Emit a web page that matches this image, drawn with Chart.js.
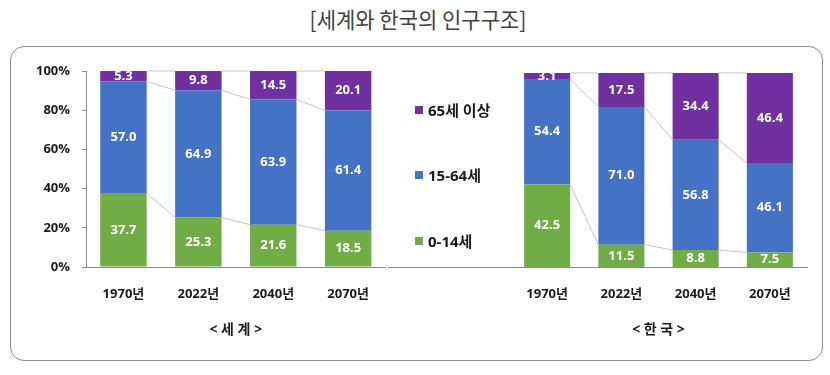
<!DOCTYPE html>
<html>
<head>
<meta charset="utf-8">
<script src="https://cdn.jsdelivr.net/npm/chart.js@4.4.1/dist/chart.umd.min.js"></script>
<style>
  body { margin: 0; width: 830px; height: 375px; background: #fff; position: relative; overflow: hidden; font-family: "Open Sans", "Noto Sans CJK KR", sans-serif; }
  #title { position: absolute; left: 0; top: 4px; width: 836px; text-align: center; font-family: "Noto Sans CJK KR", sans-serif; font-size: 21px; color: #404040; transform: scaleY(1.05); }
  #box { position: absolute; left: 10px; top: 46px; width: 813px; height: 315px; border: 1.5px solid #8c8c8c; border-radius: 14px; box-sizing: border-box; }
  .wrap { position: absolute; top: 0; height: 375px; }
  #legend .item { position: absolute; left: 415px; white-space: nowrap; font-weight: bold; font-size: 15px; line-height: 20px; color: #1a1a1a; }
  #legend .item i { display: inline-block; width: 8px; height: 8px; margin-right: 5px; vertical-align: 2px; }
</style>
</head>
<body>
<div id="title">[세계와 한국의 인구구조]</div>
<div id="box"></div>
<div class="wrap" style="left: 0; width: 388px;"><canvas id="world"></canvas></div>
<div class="wrap" style="left: 388px; width: 442px;"><canvas id="korea"></canvas></div>
<div id="legend"></div>
<script>
// data
const years = ['1970년', '2022년', '2040년', '2070년'];
const groups = ['0-14세', '15-64세', '65세 이상'];
const colors = ['#70AD47', '#4472C4', '#7030A0'];
const worldYoung = [37.7, 25.3, 21.6, 18.5];
const worldWork = [57.0, 64.9, 63.9, 61.4];
const worldOld = [5.3, 9.8, 14.5, 20.1];
const koreaYoung = [42.5, 11.5, 8.8, 7.5];
const koreaWork = [54.4, 71.0, 56.8, 46.1];
const koreaOld = [3.1, 17.5, 34.4, 46.4];
const yTicks = [0, 20, 40, 60, 80, 100];

const font = '"Open Sans", "Noto Sans CJK KR", sans-serif';
const ink = '#1a1a1a';
const axis = '#8c8c8c';

// {{{ plugins
// gray lines joining the stack boundaries of neighbouring bars
const seriesLines =
{
  id: 'seriesLines',
  afterDatasetsDraw(chart)
  {
    let ctx = chart.ctx;
    ctx.save();
    ctx.strokeStyle = '#c4c4c4';
    ctx.lineWidth = 1;
    chart.data.datasets.forEach((ds, d) =>
    {
      let bars = chart.getDatasetMeta(d).data;
      for (let i = 0; i < bars.length - 1; i++)
      {
        let a = bars[i];
        let b = bars[i + 1];
        ctx.beginPath();
        ctx.moveTo(a.x + a.width / 2, a.y);
        ctx.lineTo(b.x - b.width / 2, b.y);
        ctx.stroke();
      }
    });
    ctx.restore();
  }
};

// white value in the middle of every segment
const valueLabels =
{
  id: 'valueLabels',
  afterDatasetsDraw(chart)
  {
    let ctx = chart.ctx;
    ctx.save();
    ctx.fillStyle = '#fff';
    ctx.font = 'bold 13px ' + font;
    ctx.textAlign = 'center';
    ctx.textBaseline = 'middle';
    chart.data.datasets.forEach((ds, d) =>
    {
      chart.getDatasetMeta(d).data.forEach((bar, i) =>
      {
        ctx.fillText(ds.data[i].toFixed(1), bar.x, (bar.y + bar.base) / 2);
      });
    });
    ctx.restore();
  }
};

// korean plot's baseline runs left under the legend
const baseExtend =
{
  id: 'baseExtend',
  afterDraw(chart)
  {
    let ctx = chart.ctx;
    let a = chart.chartArea;
    ctx.save();
    ctx.strokeStyle = axis;
    ctx.lineWidth = 1;
    ctx.beginPath();
    ctx.moveTo(0, a.bottom + 0.5);
    ctx.lineTo(a.left, a.bottom + 0.5);
    ctx.stroke();
    ctx.restore();
  }
};
// }}}

// {{{ build()
function build(id, young, work, old, title, yShow, yMax, pad, extra)
{
  let sets = [young, work, old].map((v, i) => (
  {
    label: groups[i],
    data: v,
    backgroundColor: colors[i],
    borderWidth: 0,
    barPercentage: 0.62,
    categoryPercentage: 1
  }));
  return new Chart(document.getElementById(id),
  {
    type: 'bar',
    data: {labels: years, datasets: sets},
    plugins: [seriesLines, valueLabels].concat(extra),
    options:
    {
      responsive: true,
      maintainAspectRatio: false,
      animation: false,
      layout: {padding: pad},
      plugins: {legend: {display: false}, tooltip: {enabled: false}},
      scales:
      {
        x:
        {
          stacked: true,
          grid: {display: false, drawTicks: false},
          border: {display: true, color: axis, width: 1},
          ticks: {color: ink, font: {family: font, size: 13, weight: 'bold'}, padding: 19},
          title: {display: true, text: title, color: ink, font: {family: font, size: 14, weight: 'bold'}, padding: {top: 12, bottom: 0}},
          afterFit: (s) => { s.height = 71; }
        },
        y:
        {
          display: yShow,
          stacked: true,
          min: 0,
          max: yMax,
          afterBuildTicks: (s) => { s.ticks = yTicks.map((v) => ({value: v})); },
          grid: {drawOnChartArea: false, drawTicks: true, tickLength: 4, color: axis},
          border: {display: true, color: axis, width: 1},
          ticks: {color: ink, font: {family: font, size: 13, weight: 'bold'}, padding: 12, callback: (v) => v + '%'},
          afterFit: (s) => { s.width = yShow ? 66 : 0; }
        }
      }
    }
  });
}
// }}}

build('world', worldYoung, worldWork, worldOld, '< 세 계 >', true, 100, {left: 20, right: 0, top: 71, bottom: 37}, []);
build('korea', koreaYoung, koreaWork, koreaOld, '< 한 국 >', false, 101, {left: 122, right: 23, top: 71, bottom: 37}, [baseExtend]);

// legend, top item is the oldest group
let leg = document.getElementById('legend');
let tops = [231, 165, 100];
groups.forEach((g, i) =>
{
  let el = document.createElement('div');
  el.className = 'item';
  el.style.top = tops[i] + 'px';
  el.innerHTML = '<i style="background:' + colors[i] + '"></i>' + g;
  leg.appendChild(el);
});
</script>
</body>
</html>
